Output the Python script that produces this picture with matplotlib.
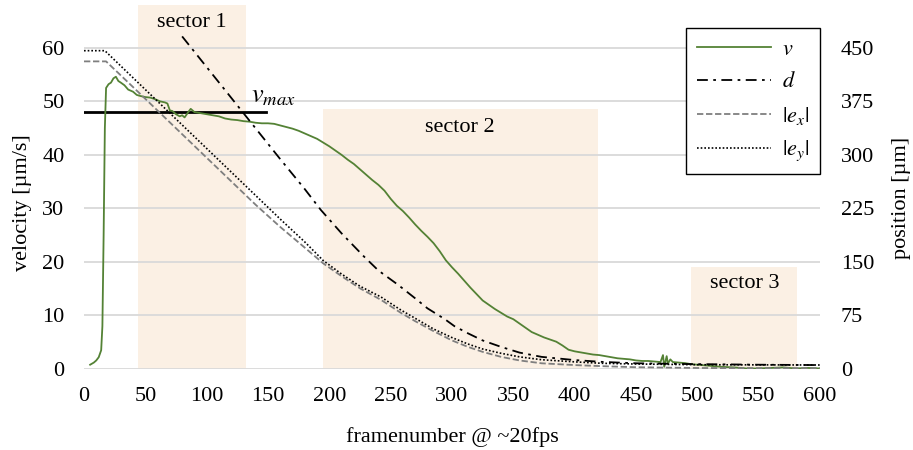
import matplotlib
matplotlib.use("Agg")
import matplotlib.pyplot as plt
from matplotlib.lines import Line2D

plt.rcParams['font.family'] = ['Liberation Serif', 'DejaVu Serif']
plt.rcParams['mathtext.fontset'] = 'stix'

# ---------------- data ----------------
v_frames = [5, 8, 10, 12, 14, 15, 16, 17, 18, 20, 22, 24, 26, 28, 30, 33, 36, 40, 43, 46, 50, 54, 58, 62,
            66, 68, 70, 72, 75, 78, 80, 82, 85, 87, 90, 95, 100, 105, 110, 115, 120, 125, 130, 135, 140,
            145, 150, 155, 160, 165, 170, 175, 180, 185, 190, 195, 200, 205, 210, 215, 220, 225, 230,
            235, 240, 245, 250, 255, 260, 265, 270, 275, 280, 285, 290, 295, 300, 305, 310, 315, 320,
            325, 330, 335, 340, 345, 350, 355, 360, 365, 370, 375, 380, 385, 390, 395, 400, 405, 410,
            415, 420, 425, 430, 435, 440, 445, 450, 455, 460, 465, 470, 472, 473, 475, 476, 478, 480,
            485, 490, 495, 500, 510, 520, 530, 540, 550, 560, 570, 580, 590, 600]
v_values = [0.8, 1.2, 1.6, 2.2, 3.5, 8, 25, 45, 52.5, 53.2, 53.5, 54.3, 54.6, 53.8, 53.5, 53.0, 52.2,
            51.8, 51.2, 51.0, 50.8, 50.7, 50.4, 50.0, 49.8, 49.6, 48.3, 48.2, 47.6, 47.2, 47.4, 47.0,
            48.0, 48.6, 48.0, 47.8, 47.6, 47.4, 47.2, 46.8, 46.6, 46.5, 46.3, 46.2, 46.0, 45.9, 45.9,
            45.8, 45.5, 45.2, 44.9, 44.5, 44.0, 43.5, 43.0, 42.3, 41.6, 40.8, 40.0, 39.1, 38.3, 37.3,
            36.3, 35.3, 34.4, 33.3, 31.8, 30.5, 29.5, 28.3, 27.0, 25.8, 24.7, 23.5, 22.0, 20.3, 19.0,
            17.8, 16.5, 15.2, 14.0, 12.8, 12.0, 11.2, 10.5, 9.8, 9.3, 8.5, 7.7, 6.9, 6.4, 5.9, 5.5,
            5.1, 4.4, 3.6, 3.3, 3.1, 2.9, 2.7, 2.6, 2.4, 2.2, 2.0, 1.9, 1.8, 1.6, 1.5, 1.5, 1.4, 1.3,
            2.6, 0.4, 2.4, 1.0, 1.8, 1.3, 1.2, 1.1, 0.9, 0.8, 0.6, 0.4, 0.3, 0.1, 0.1, 0.2, 0.3, 0.1,
            0.2, 0.1]

d_frames = [80, 100, 120, 140, 160, 180, 193, 210, 228, 240, 256, 270, 280, 294, 302, 313, 325, 340,
            355, 373, 400, 422, 450, 490, 550, 600]
d_values = [466, 423, 380, 337, 294, 252, 223, 190, 158, 138, 118, 99, 85, 70, 60, 50, 40, 31, 23, 17,
            12.5, 10, 8, 7, 6, 5.5]

ex_frames = [0, 18, 40, 60, 80, 100, 120, 140, 160, 180, 195, 210, 225, 242, 258, 270, 285, 300, 313,
             325, 340, 355, 373, 400, 422, 450, 500, 550, 600]
ex_values = [431, 431, 395, 362, 329, 296, 263, 230, 199, 170, 148, 130, 113, 97, 79, 67, 53, 40, 31,
             24, 17, 12, 8, 5.5, 4, 2.5, 1.4, 1.2, 1.2]

ey_frames = [0, 17, 40, 60, 80, 100, 120, 140, 160, 180, 195, 210, 225, 242, 258, 270, 285, 300, 313,
             325, 340, 355, 373, 400, 422, 450, 500, 550, 600]
ey_values = [446, 446, 408, 375, 342, 309, 276, 243, 210, 178, 152, 133, 116, 101, 83, 71, 56, 44, 35,
             28, 22, 17, 13, 10, 8, 7, 6, 5.8, 5.6]

sector_names = ['sector 1', 'sector 2', 'sector 3']
sector_start = [44, 195, 495]
sector_end = [132, 419, 581]
sector_top = [68, 48.5, 19]

v_max = 48
v_max_end = 148

x_ticks = list(range(0, 601, 50))
y_left_ticks = list(range(0, 61, 10))
y_right_ticks = list(range(0, 451, 75))

# ---------------- plot ----------------
FS = 16
fig = plt.figure(figsize=(9.13, 4.5), dpi=100)
ax = fig.add_axes([84 / 913, 1 - 369 / 450, 736 / 913, 364 / 450])
ax2 = ax.twinx()

green = '#548235'
sector_color = '#FBF0E4'

for name, s, e, t in zip(sector_names, sector_start, sector_end, sector_top):
    ax.bar(s, t, width=e - s, align='edge', color=sector_color, zorder=0, linewidth=0)

ax.set_xlim(0, 600)
ax.set_ylim(0, 68)
ax2.set_ylim(0, 68 * 7.5)

ax.set_yticks(y_left_ticks)
ax2.set_yticks(y_right_ticks)
ax.set_xticks(x_ticks)
ax.yaxis.grid(True, color='#D9D9D9', linewidth=1.3, zorder=0.5)
ax.set_axisbelow(True)

for a in (ax, ax2):
    for sp in a.spines.values():
        sp.set_visible(False)
    a.tick_params(length=0, labelsize=FS)
ax.tick_params(axis='y', pad=14)
ax.tick_params(axis='x', pad=13)
ax2.tick_params(axis='y', pad=15)

# lines
ax.plot(v_frames, v_values, color=green, lw=1.3, zorder=3)
ax.plot([0, v_max_end], [v_max, v_max], color='black', lw=2, zorder=2.5)
ax2.plot(d_frames, d_values, color='black', lw=1.3, linestyle=(0, (6, 3, 1.5, 3)))
ax2.plot(ex_frames, ex_values, color='#7F7F7F', lw=1.3, linestyle=(0, (3.5, 1.5)))
ax2.plot(ey_frames, ey_values, color='black', lw=1.2, linestyle=(0, (1, 1.2)))

# texts
ax.text(136, 48.8, r'$v_{max}$', fontsize=19, ha='left', va='bottom')
ax.text((sector_start[0] + sector_end[0]) / 2, 64.8, sector_names[0], fontsize=FS, ha='center', va='center')
ax.text(306, 45.2, sector_names[1], fontsize=FS, ha='center', va='center')
ax.text(539, 16, sector_names[2], fontsize=FS, ha='center', va='center')

fig.text(452 / 913, 1 - 442 / 450, 'framenumber @ ~20fps', fontsize=FS, ha='center', va='baseline')
fig.text(23 / 913, 1 - 203 / 450, 'velocity [µm/s]', fontsize=FS, ha='center', va='center', rotation=90)
fig.text(901 / 913, 1 - 198 / 450, 'position [µm]', fontsize=FS, ha='center', va='center', rotation=90)

handles = [
    Line2D([], [], color=green, lw=1.3),
    Line2D([], [], color='black', lw=1.3, linestyle=(0, (6, 3, 1.5, 3))),
    Line2D([], [], color='#7F7F7F', lw=1.3, linestyle=(0, (3.5, 1.5))),
    Line2D([], [], color='black', lw=1.2, linestyle=(0, (1, 1.2))),
]
labels = [r'$v$', r'$d$', r'$|e_x|$', r'$|e_y|$']
leg = ax2.legend(handles, labels, loc='upper right', bbox_to_anchor=(1.0, 0.937), borderaxespad=0,
                 fontsize=16, handlelength=3.3, fancybox=False, framealpha=1, edgecolor='black',
                 labelspacing=0.55, handletextpad=0.5, borderpad=0.5)
leg.get_frame().set_linewidth(1.0)

fig.savefig('out.png', dpi=100)
